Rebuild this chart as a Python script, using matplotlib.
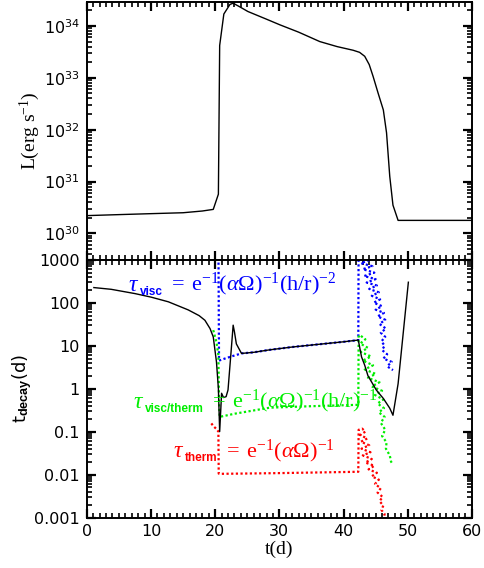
import matplotlib
matplotlib.use("Agg")
import matplotlib.pyplot as plt
from matplotlib import transforms
from matplotlib.ticker import LogLocator, MultipleLocator, FixedLocator, FixedFormatter, NullFormatter

# ---------------- data ----------------
# top panel: luminosity
t_L = [0, 5, 10, 15, 18, 19.7, 20.5, 20.7, 21.35, 22.3, 22.8, 23.8, 25.1, 28, 30.1, 33, 36.3, 39, 41.5, 42.5,
       43.3, 44.0, 44.6, 45.4, 46.2, 46.7, 47.2, 47.7, 48.5, 52, 60]
L = [2.2e30, 2.3e30, 2.4e30, 2.5e30, 2.7e30, 2.9e30, 5.7e30, 4.2e33, 1.7e34, 2.6e34, 2.75e34, 2.35e34, 1.9e34,
     1.35e34, 1.05e34, 7.6e33, 5.0e33, 4.0e33, 3.4e33, 3.1e33, 2.6e33, 1.8e33, 1.07e33, 5.0e32, 2.4e32,
     8.7e31, 1.26e31, 3.5e30, 1.78e30, 1.78e30, 1.78e30]

# bottom panel: decay time (black)
t_dec = [1.1, 3.8, 7.5, 10, 12.7, 15.8, 17.5, 18.4, 19.2, 19.7, 20.2, 20.5, 20.7, 21.0, 21.3, 21.7, 22.0,
         22.5, 22.8, 23.0, 23.3, 24.1, 26, 28.5, 32, 36, 40, 42.3, 42.8, 43.3, 43.8, 45.1, 46.2, 47.2, 47.7,
         48.5, 50.1]
t_decay = [225, 205, 163, 135, 105, 68, 50, 39, 25, 16, 4.2, 1.0, 0.1, 0.78, 0.62, 0.65, 0.93,
           8, 30, 21, 11, 6.6, 7.0, 8.0, 9.3, 10.7, 12.3, 13.5, 5.5, 3.5, 2.0, 0.93, 0.59, 0.35, 0.24,
           1.3, 300]

# tau_visc (blue dotted)
t_visc = [20.5, 20.6, 21.5, 22.5, 24.1, 26, 28.5, 32, 36, 40, 42.3, 42.35,
          42.6, 44.2, 42.7, 44.5, 43.0, 44.8, 43.2, 45.0, 43.6, 45.2, 44.0, 45.5, 44.4, 45.7, 44.7, 46.0,
          45.0, 46.3, 45.3, 46.5, 45.6, 46.6, 45.8, 46.5, 45.9, 46.4, 46.0, 46.8, 46.2, 47.5, 46.8, 47.7]
tau_visc = [3000, 4.5, 5.0, 5.6, 6.6, 7.0, 8.0, 9.3, 10.7, 12.3, 13.5, 3000,
            1259, 1000, 832, 708, 603, 501, 417, 355, 295, 251, 209, 174, 145, 120, 100, 83,
            69, 58, 48, 40, 32, 25, 20, 16, 12.6, 10, 7.9, 6.3, 5.0, 4.2, 3.3, 2.7]

# tau_visc/therm (green dotted)
t_vt = [19.7, 20.2, 20.5, 20.6, 20.7, 23.0, 28.5, 35, 42.3, 42.35,
        42.5, 43.4, 42.6, 43.8, 42.7, 44.3, 43.0, 44.6, 43.3, 45.0, 43.8, 45.6, 44.4, 46.0, 44.9, 46.2,
        45.3, 46.3, 45.5, 46.4, 45.8, 46.5, 46.0, 46.7, 46.6, 47.2, 47.4, 47.7]
tau_vt = [23, 12, 6, 0.5, 0.22, 0.26, 0.36, 0.39, 0.42, 16,
          17.8, 14.1, 11.2, 8.9, 7.1, 5.6, 4.5, 3.5, 2.8, 2.2, 1.78, 1.41, 1.12, 0.89, 0.71, 0.56,
          0.45, 0.35, 0.28, 0.22, 0.16, 0.11, 0.079, 0.056, 0.040, 0.028, 0.020, 0.017]

# tau_therm (red dotted)
t_th = [19.4, 19.8, 20.2, 20.5, 20.55, 21, 30, 42.3, 42.35,
        42.9, 43.4, 42.6, 43.7, 42.7, 44.0, 42.8, 44.2, 43.0, 44.4, 43.4, 44.8, 43.9, 45.2, 44.4, 45.5,
        44.9, 45.8, 45.3, 46.1, 45.6, 46.2, 45.9, 46.4, 46.2]
tau_th = [0.155, 0.13, 0.115, 0.1, 0.0105, 0.0104, 0.0108, 0.0116, 0.11,
          0.117, 0.1, 0.083, 0.069, 0.058, 0.048, 0.040, 0.033, 0.028, 0.023, 0.019, 0.016, 0.0132,
          0.011, 0.0091, 0.0076, 0.0060, 0.0048, 0.0038, 0.0030, 0.0024, 0.0019, 0.0015, 0.0012, 0.00089]

top_ticks = [1e30, 1e31, 1e32, 1e33, 1e34]
top_ticklabels = [r'$\mathdefault{10^{30}}$', r'$\mathdefault{10^{31}}$', r'$\mathdefault{10^{32}}$',
                  r'$\mathdefault{10^{33}}$', r'$\mathdefault{10^{34}}$']
bot_ticks = [0.001, 0.01, 0.1, 1, 10, 100, 1000]
bot_ticklabels = ['0.001', '0.01', '0.1', '1', '10', '100', '1000']
x_ticks = [0, 10, 20, 30, 40, 50, 60]
x_ticklabels = ['0', '10', '20', '30', '40', '50', '60']

# ---------------- style ----------------
plt.rcParams['font.family'] = ['DejaVu Sans']
plt.rcParams['mathtext.fontset'] = 'custom'
plt.rcParams['mathtext.rm'] = 'Liberation Serif'
plt.rcParams['mathtext.it'] = 'Liberation Serif:italic'
plt.rcParams['mathtext.bf'] = 'Liberation Sans:bold'
plt.rcParams['mathtext.sf'] = 'DejaVu Sans'
plt.rcParams['axes.linewidth'] = 1.4

fig, (ax1, ax2) = plt.subplots(2, 1, figsize=(4.85, 5.68), dpi=100)
fig.subplots_adjust(left=0.179, right=0.973, top=0.9965, bottom=0.0889, hspace=0)


def style(ax):
    ax.set_xlim(0, 60)
    ax.xaxis.set_major_locator(FixedLocator(x_ticks))
    ax.xaxis.set_minor_locator(MultipleLocator(1))
    ax.yaxis.set_minor_locator(LogLocator(base=10, subs=[2, 3, 4, 5, 6, 7, 8, 9], numticks=50))
    ax.yaxis.set_minor_formatter(NullFormatter())
    ax.tick_params(axis='both', which='major', direction='in', length=6.5, width=1.6, color='black',
                   top=True, right=True, bottom=True, left=True, pad=5, labelsize=11.5)
    ax.tick_params(axis='both', which='minor', direction='in', length=3.5, width=1.2, color='black',
                   top=True, right=True, bottom=True, left=True)


# top panel
ax1.plot(t_L, L, color='black', lw=1.0)
ax1.set_yscale('log')
ax1.set_ylim(3.1e29, 2.9e34)
style(ax1)
ax1.yaxis.set_major_locator(FixedLocator(top_ticks))
ax1.yaxis.set_major_formatter(FixedFormatter(top_ticklabels))
ax1.tick_params(axis='x', labelbottom=False)
ax1.set_ylabel(r'L(erg s$^{-1}$)', family='Liberation Serif', fontsize=14, labelpad=1)

# bottom panel
ax2.plot(t_dec, t_decay, color='black', lw=1.0, zorder=3)
ax2.plot(t_visc, tau_visc, color='#0000ff', lw=1.6, dashes=(1, 1.1), zorder=2)
ax2.plot(t_vt, tau_vt, color='#00ee00', lw=1.6, dashes=(1, 1.1), zorder=2)
ax2.plot(t_th, tau_th, color='#ff0000', lw=1.6, dashes=(1, 1.1), zorder=2)
ax2.set_yscale('log')
ax2.set_ylim(0.001, 1000)
style(ax2)
ax2.yaxis.set_major_locator(FixedLocator(bot_ticks))
ax2.yaxis.set_major_formatter(FixedFormatter(bot_ticklabels))
ax2.xaxis.set_major_formatter(FixedFormatter(x_ticklabels))
ax2.set_xlabel('t(d)', family='Liberation Serif', fontsize=14, labelpad=1)
ax2.set_ylabel(r't$_{\mathbf{decay}}$(d)', fontsize=13, labelpad=0)

# formula labels: tau + small bold subscript + serif formula
renderer = fig.canvas.get_renderer()


def formula(ax, x, y, sub, rest, color):
    t1 = ax.text(x, y, r'$\tau$', color=color, fontsize=17, va='baseline', ha='left', zorder=5)
    w1 = t1.get_window_extent(renderer).width
    tr2 = transforms.offset_copy(ax.transData, fig=fig, x=w1 + 1, y=-4, units='dots')
    t2 = ax.text(x, y, sub, color=color, fontsize=8.5, family='Liberation Sans', weight='bold',
                 va='baseline', ha='left', transform=tr2, zorder=5)
    w2 = t2.get_window_extent(renderer).width
    tr3 = transforms.offset_copy(ax.transData, fig=fig, x=w1 + w2 + 9, y=0, units='dots')
    ax.text(x, y, rest, color=color, fontsize=16, family='Liberation Serif',
            va='baseline', ha='left', transform=tr3, zorder=5)


formula(ax2, 6.4, 190, 'visc', r'= $\,$e$^{-1}$($\alpha\Omega$)$^{-1}$(h/r)$^{-2}$', '#0000ff')
formula(ax2, 7.2, 0.36, 'visc/therm', r'= $\,$e$^{-1}$($\alpha\Omega$)$^{-1}$(h/r)$^{-1}$', '#00ee00')
formula(ax2, 13.4, 0.025, 'therm', r'= $\,$e$^{-1}$($\alpha\Omega$)$^{-1}$', '#ff0000')

fig.savefig('out.png', dpi=100)
